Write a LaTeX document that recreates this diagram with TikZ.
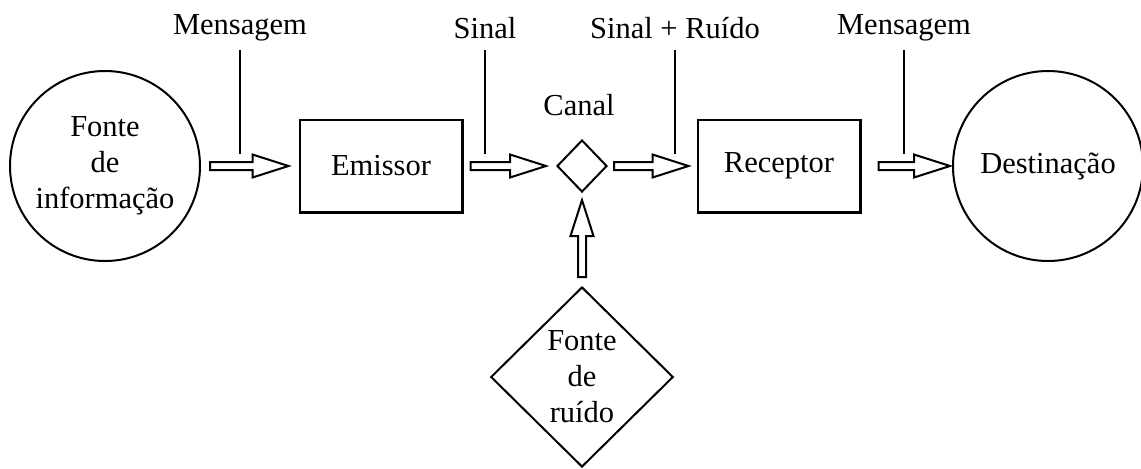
\documentclass[tikz,border=0pt]{standalone}
\usepackage{fontspec}
\setmainfont{Liberation Serif}
\usetikzlibrary{calc,shapes.geometric}

% seta oca: #1 origem, #2 destino, #3 e #4 folgas nas pontas
\newcommand{\setaoca}[4]{%
  \coordinate (sa) at ($(#1)!#3!(#2)$);
  \coordinate (sb) at ($(#2)!#4!(#1)$);
  \coordinate (sh) at ($(sb)!14.4pt!(sa)$);
  \draw[contorno] ($(sa)!1.6pt!90:(sb)$) -- ($(sh)!1.6pt!90:(sb)$) -- ($(sh)!4.6pt!90:(sb)$)
    -- (sb) -- ($(sh)!4.6pt!-90:(sb)$) -- ($(sh)!1.6pt!-90:(sb)$) -- ($(sa)!1.6pt!-90:(sb)$) -- cycle;}

\begin{document}
\begin{tikzpicture}[x=0.4pt,y=-0.4pt,
  font=\fontsize{12.2}{14.4}\selectfont,
  caixa/.style={draw,line width=1pt,minimum width=65pt,minimum height=37pt},
  circulo/.style={draw,circle,line width=0.8pt,minimum size=76pt,inner sep=0pt,align=center},
  losango/.style={draw,diamond,line width=0.8pt,inner sep=0pt,aspect=1,align=center},
  contorno/.style={line width=0.8pt,line join=miter},
  fio/.style={line width=0.9pt}]

\useasboundingbox (0,0) rectangle (1141,468);

% --- Blocos principais ---
\node[circulo] (fonte) at (105,166) {Fonte\\de\\informação};
\node[caixa] (emissor) at (381,166) {Emissor};
\node[losango,minimum width=20pt,minimum height=20.8pt] (canal) at (582,166) {};
\node[caixa] (receptor) at (779,166) {Receptor};
\node[circulo] (destino) at (1048,166) {Destinação};

% --- Fonte de ruido ---
\node[losango,minimum width=73pt,minimum height=72pt] (ruido) at (582,377) {Fonte\\de\\ruído};

% Setas ocas
\setaoca{fonte.east}{emissor.west}{3.6pt}{4pt}
\setaoca{emissor.east}{canal.west}{2.8pt}{4pt}
\setaoca{canal.east}{receptor.west}{2.4pt}{3.2pt}
\setaoca{receptor.east}{destino.west}{6.8pt}{0.8pt}
\setaoca{ruido.north}{canal.south}{3.6pt}{2.8pt}

% --- Rotulos em cima ---
\node (lcanal) at (579,105) {Canal};
\node (lmsg1) at (240,28) {Mensagem};
\node (lsinal) at (485,28) {Sinal};
\node (lsr) at (675,28) {Sinal + Ruído};
\node (lmsg2) at (904,28) {Mensagem};

\coordinate (alto) at (0,50);
\coordinate (baixo) at (0,154);
\draw[fio] (lmsg1 |- alto) -- (lmsg1 |- baixo);
\draw[fio] (lsinal |- alto) -- (lsinal |- baixo);
\draw[fio] (lsr |- alto) -- (lsr |- baixo);
\draw[fio] (lmsg2 |- alto) -- (lmsg2 |- baixo);

\end{tikzpicture}
\end{document}
